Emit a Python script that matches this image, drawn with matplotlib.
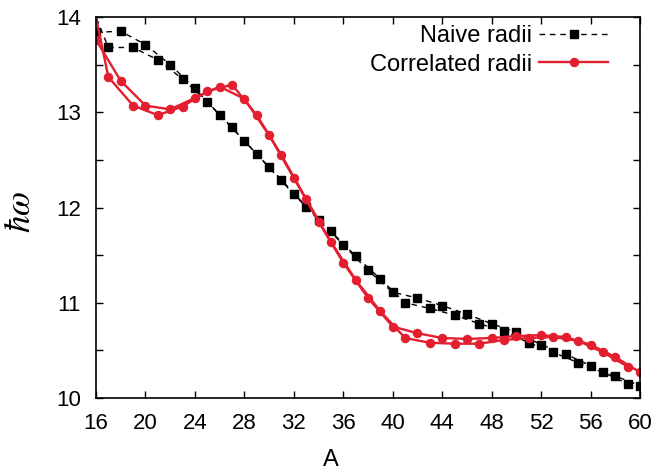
import numpy as np
import matplotlib
matplotlib.use("Agg")
import matplotlib.pyplot as plt

plt.rcParams["font.family"] = ["Liberation Sans", "DejaVu Sans"]
plt.rcParams["mathtext.fontset"] = "stix"

# mass number A
A = list(range(16, 61))

naive = [13.84, 13.68, 13.85, 13.68, 13.71, 13.55, 13.50, 13.35, 13.25, 13.11,
         12.97, 12.84, 12.70, 12.56, 12.42, 12.29, 12.14, 12.01, 11.87, 11.75,
         11.61, 11.49, 11.34, 11.25, 11.11, 11.00, 11.05, 10.94, 10.97, 10.87,
         10.88, 10.78, 10.78, 10.70, 10.69, 10.58, 10.56, 10.48, 10.46, 10.37,
         10.34, 10.27, 10.23, 10.15, 10.13]

correlated = [13.76, 13.37, 13.33, 13.07, 13.07, 12.97, 13.03, 13.06, 13.15, 13.22,
              13.27, 13.29, 13.14, 12.97, 12.76, 12.55, 12.31, 12.09, 11.85, 11.64,
              11.42, 11.24, 11.05, 10.91, 10.75, 10.63, 10.68, 10.58, 10.63, 10.57,
              10.62, 10.57, 10.63, 10.61, 10.65, 10.63, 10.66, 10.64, 10.64, 10.60,
              10.56, 10.48, 10.43, 10.33, 10.27]

# odd branch starts at A=15, just above the plotted range (clipped)
naive_a15 = 14.32
corr_a15 = 14.62

A = np.array(A)
naive = np.array(naive)
correlated = np.array(correlated)
even = A % 2 == 0
odd = ~even

red = "#e31e2f"

fig = plt.figure(figsize=(6.53, 4.70), dpi=100)
ax = fig.add_axes([96 / 653, 1 - 398 / 470, 544 / 653, 381 / 470])

nstyle = dict(color="black", lw=1.0, ls=(0, (4, 3.5)), marker="s", ms=5.2)
cstyle = dict(color=red, lw=1.7, ls="-", marker="o", ms=5.8)

ax.plot(A[even], naive[even], label="Naive radii", **nstyle)
ax.plot(np.r_[15, A[odd]], np.r_[naive_a15, naive[odd]], markevery=list(range(1, 23)), **nstyle)
ax.plot(A[even], correlated[even], label="Correlated radii", **cstyle)
ax.plot(np.r_[15, A[odd]], np.r_[corr_a15, correlated[odd]], markevery=list(range(1, 23)), **cstyle)

ax.set_xlim(16, 60)
ax.set_ylim(10, 14)
ax.set_xticks(range(16, 61, 4))
ax.set_yticks([10, 11, 12, 13, 14])
ax.set_yticks(np.arange(10.5, 14, 1), minor=True)
ax.tick_params(which="both", direction="in", top=True, right=True, length=5, width=1,
               labelsize=16)
ax.tick_params(axis="x", pad=11)
ax.tick_params(axis="y", pad=11)
for s in ax.spines.values():
    s.set_linewidth(1.2)

fig.text(331 / 653, 1 - 460 / 470, "A", fontsize=17, ha="center", va="center")
fig.text(21 / 653, 1 - 212 / 470, r"$\hbar\omega$", fontsize=25, rotation=90,
         ha="center", va="center")

ax.legend(loc="upper right", bbox_to_anchor=(0.941, 0.979), frameon=False, markerfirst=False,
          handlelength=2.9, numpoints=1, fontsize=17, labelspacing=0.28, handletextpad=0.3,
          borderaxespad=0, borderpad=0)

fig.savefig("out.png", dpi=100)
